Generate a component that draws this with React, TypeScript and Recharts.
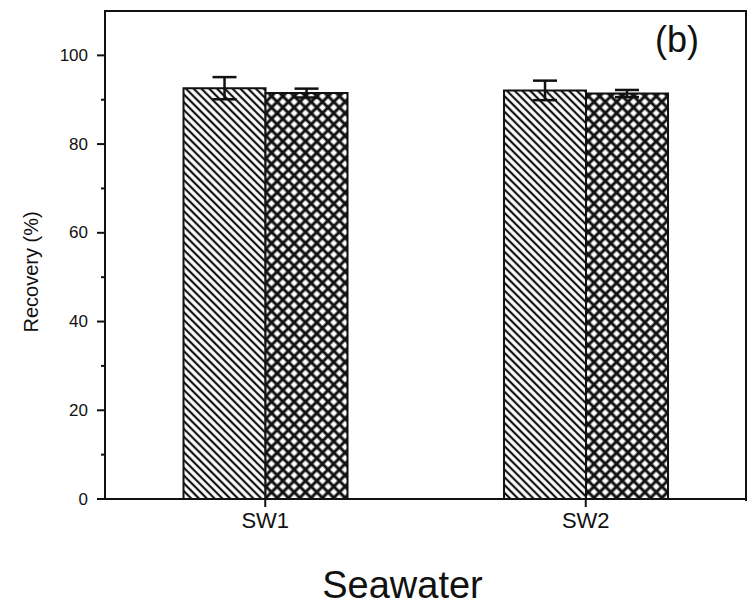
import React from 'react';
import { BarChart, Bar, XAxis, YAxis, ErrorBar } from 'recharts';

const categories = ['SW1', 'SW2'];
const hatchValues = [92.6, 92.1];
const hatchErrors = [2.5, 2.2];
const crossValues = [91.5, 91.4];
const crossErrors = [1.0, 0.8];
const yTicks = [0, 10, 20, 30, 40, 50, 60, 70, 80, 90, 100];

const data = categories.map((name, i) => ({
  name,
  hatch: hatchValues[i],
  hatchErr: hatchErrors[i],
  cross: crossValues[i],
  crossErr: crossErrors[i],
}));

const font = 'Arial, "Liberation Sans", sans-serif';

// major ticks get a label and a long mark, minor ones only a short mark
const YTick = (props: any) => {
  const { x, y, payload } = props;
  const major = payload.value % 20 === 0;
  const axisX = x + 17;
  return (
    <g>
      <line x1={axisX - (major ? 8 : 4)} y1={y} x2={axisX} y2={y} stroke="#111" strokeWidth={2} />
      {major && (
        <text x={axisX - 17} y={y} textAnchor="end" dominantBaseline="central" fontSize={17} fill="#111" fontFamily={font}>
          {payload.value}
        </text>
      )}
    </g>
  );
};

const YLabel = (props: any) => {
  const vb = props.viewBox || {};
  const cy = (vb.y || 0) + (vb.height || 0) / 2 + 17;
  return (
    <text x={31} y={cy} transform={`rotate(-90, 31, ${cy})`} textAnchor="middle" dominantBaseline="central"
      fontSize={20} fill="#111" fontFamily={font}>
      Recovery (%)
    </text>
  );
};

const XLabel = (props: any) => {
  const vb = props.viewBox || {};
  const cx = (vb.x || 0) + (vb.width || 0) / 2 - 23;
  return (
    <text x={cx} y={598} textAnchor="middle" fontSize={38} fill="#111" fontFamily={font}>
      Seawater
    </text>
  );
};

const App: React.FC = () => {
  return (
    <div style={{ position: 'absolute', left: 0, top: 0, width: 748, height: 613, background: '#fff', fontFamily: font }}>
      <BarChart
        width={748}
        height={613}
        data={data}
        margin={{ top: 11, right: 2, left: 0, bottom: 0 }}
        barCategoryGap="24.5%"
        barGap={0}
      >
        <defs>
          <pattern id="diag" width="5.5" height="5.5" patternUnits="userSpaceOnUse" patternTransform="rotate(45)">
            <rect width="5.5" height="5.5" fill="#fff" />
            <line x1="0" y1="2.75" x2="5.5" y2="2.75" stroke="#111" strokeWidth="2.2" />
          </pattern>
          <pattern id="cross" width="8" height="8" patternUnits="userSpaceOnUse" patternTransform="rotate(45)">
            <rect width="8" height="8" fill="#fff" />
            <line x1="0" y1="4" x2="8" y2="4" stroke="#111" strokeWidth="3" />
            <line x1="4" y1="0" x2="4" y2="8" stroke="#111" strokeWidth="3" />
          </pattern>
        </defs>
        <XAxis
          dataKey="name"
          height={114}
          stroke="#111"
          strokeWidth={2}
          tickSize={8}
          tickMargin={5}
          tick={{ fill: '#111', fontSize: 22, fontFamily: font }}
          label={<XLabel />}
        />
        <YAxis
          width={105}
          domain={[0, 110]}
          ticks={yTicks}
          interval={0}
          stroke="#111"
          strokeWidth={2}
          tickLine={false}
          tickSize={8}
          tickMargin={9}
          tick={<YTick />}
          label={<YLabel />}
        />
        <Bar dataKey="hatch" fill="url(#diag)" stroke="#111" strokeWidth={2} isAnimationActive={false}>
          <ErrorBar dataKey="hatchErr" width={12} stroke="#111" strokeWidth={2.5} direction="y" />
        </Bar>
        <Bar dataKey="cross" fill="url(#cross)" stroke="#111" strokeWidth={2} isAnimationActive={false}>
          <ErrorBar dataKey="crossErr" width={12} stroke="#111" strokeWidth={2.5} direction="y" />
        </Bar>
      </BarChart>
      {/* top and right frame lines of the plot box */}
      <div style={{ position: 'absolute', left: 104, top: 10, width: 641, height: 489, borderTop: '2px solid #111', borderRight: '2px solid #111', pointerEvents: 'none' }} />
      <div style={{ position: 'absolute', left: 655, top: 19, fontSize: 36, color: '#111', fontFamily: font }}>(b)</div>
    </div>
  );
};

export default App;
